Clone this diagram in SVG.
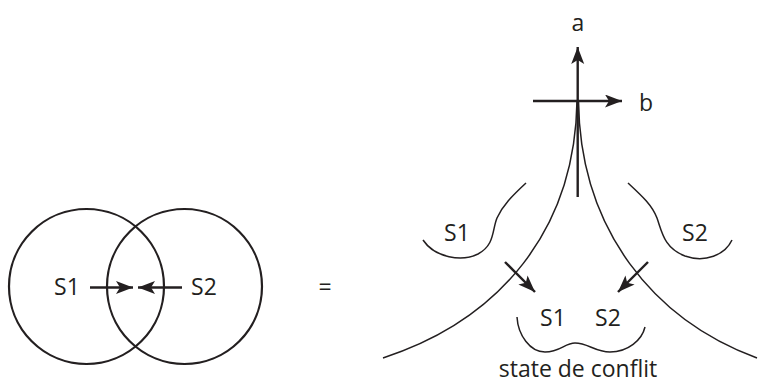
<svg xmlns="http://www.w3.org/2000/svg" width="767" height="383" viewBox="0 0 767 383">
<style>
.t{font-family:"Open Sans","Noto Sans",sans-serif;font-size:23px;fill:#231f20;text-anchor:middle}
.c{fill:none;stroke:#231f20;stroke-width:2.2}
.l{fill:none;stroke:#231f20;stroke-width:1.5}
.a{fill:none;stroke:#231f20;stroke-width:2.4;marker-end:url(#ah)}
</style>
<defs>
<marker id="ah" markerUnits="userSpaceOnUse" markerWidth="18" markerHeight="14" refX="17" refY="6.5" orient="auto">
<path d="M0,0 L17,6.5 L0,13 L4,6.5 Z" fill="#231f20"/>
</marker>
</defs>
<g id="venn">
<circle class="c" cx="86.5" cy="286.5" r="77.5"/>
<circle class="c" cx="184.5" cy="286.5" r="77.5"/>
<text class="t" x="67" y="295">S1</text>
<text class="t" x="204" y="295">S2</text>
</g>
<g id="equals"><text class="t" x="325" y="295">=</text></g>
<g id="axes">
<text class="t" x="578" y="31">a</text>
<text class="t" x="646" y="111">b</text>
</g>
<g id="region-s1">
<path class="l" d="M526,183 C512,196 503,205 497,218 C492,230 495,245 478,254 C462,262 435,258 423,240"/>
<text class="t" x="457" y="241">S1</text>
</g>
<g id="region-s2">
<path class="l" d="M628,183 C642,196 652,205 657,218 C662,232 664,248 685,256 C705,263 725,255 732,240"/>
<text class="t" x="695" y="241">S2</text>
</g>
<g id="conflict">
<path class="l" d="M517,317 C518,335 530,352 545,352 C560,352 565,343 575,343 C588,343 595,352 610,352 C628,352 642,340 645,327"/>
<text class="t" x="553" y="326">S1</text>
<text class="t" x="608" y="326">S2</text>
<text class="t" x="578" y="377">state de conflit</text>
</g>
<g id="connectors">
<line class="a" x1="90" y1="287.5" x2="133" y2="287.5"/>
<line class="a" x1="182" y1="287.5" x2="138" y2="287.5"/>
<line class="a" x1="577.7" y1="197" x2="577.7" y2="47"/>
<line class="a" x1="533" y1="101" x2="622" y2="101"/>
<path class="l" d="M577,101 C575,230 500,320 383,358"/>
<path class="l" d="M578.5,101 C580,230 654,320 757,358"/>
<line class="a" x1="505" y1="262" x2="535" y2="292"/>
<line class="a" x1="648" y1="262" x2="618" y2="292"/>
</g>
</svg>
